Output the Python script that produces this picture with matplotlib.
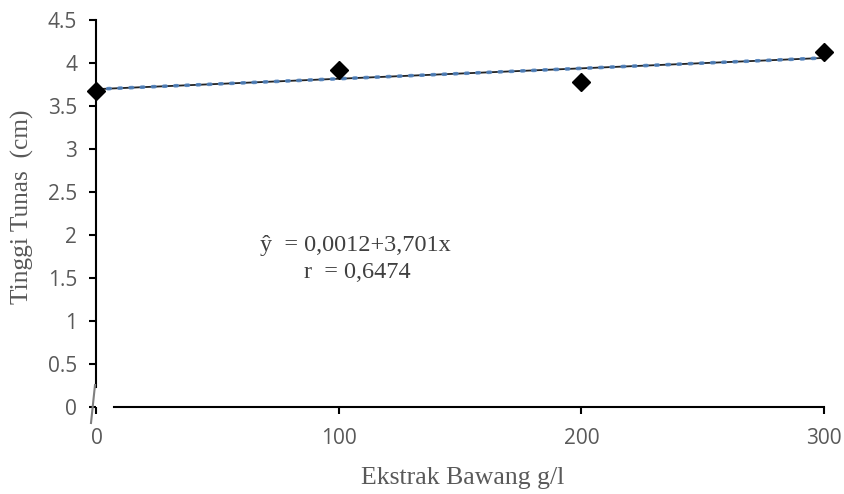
import numpy as np
import matplotlib.pyplot as plt
from matplotlib.lines import Line2D

# data
dosis = [0, 100, 200, 300]
tinggi = [3.68, 3.92, 3.78, 4.13]
xticks = [0, 100, 200, 300]
yticks = [0, 0.5, 1, 1.5, 2, 2.5, 3, 3.5, 4, 4.5]

gray = '#595959'

fig = plt.figure(figsize=(8.45, 4.94), dpi=100)
ax = fig.add_axes([96.5 / 845, 87 / 494, 727.5 / 845, 387 / 494])

# trend line
b, a = np.polyfit(dosis, tinggi, 1)
xs = np.array([0, 300])
ax.plot(xs, a + b * xs, color='#222222', lw=1.3, zorder=2)
ax.plot(xs, a + b * xs, color='#4f81bd', lw=2.6, ls=(0, (0.7, 2.4)),
        dash_capstyle='round', alpha=0.9, zorder=3)

ax.plot(dosis, tinggi, 'D', color='black', ms=9.5, zorder=4, clip_on=False)

ax.set_xlim(0, 300)
ax.set_ylim(0, 4.5)
ax.set_xticks(xticks)
ax.set_xticklabels([str(v) for v in xticks])
ax.set_yticks(yticks)
ax.set_yticklabels([('%g' % v) for v in yticks])

for s in ['top', 'right']:
    ax.spines[s].set_visible(False)
ax.spines['left'].set_bounds(0.23, 4.5)
ax.spines['bottom'].set_bounds(7.2, 300)
ax.spines['left'].set_linewidth(1.5)
ax.spines['bottom'].set_linewidth(1.5)

ax.tick_params(axis='both', direction='out', length=5, width=1.5, color='black',
               labelcolor=gray, labelsize=15, labelfontfamily='Open Sans')
ax.tick_params(axis='y', pad=9)
ax.tick_params(axis='x', pad=10)

# axis break mark
fig.add_artist(Line2D([95 / 845, 91 / 845], [1 - 385 / 494, 1 - 423 / 494],
                      color='#7f7f7f', lw=1.5))

fig.text(463 / 845, 1 - 478 / 494, 'Ekstrak Bawang g/l', ha='center', va='center',
         family='Liberation Serif', fontsize=18.5, color=gray)
fig.text(22 / 845, 1 - 207 / 494, 'Tinggi Tunas  (cm)', ha='center', va='center',
         rotation=90, family='Liberation Serif', fontsize=18.3, color=gray)

fig.text(355 / 845, 1 - 245 / 494, 'ŷ  = 0,0012+3,701x', ha='center', va='center',
         family='Liberation Serif', fontsize=17.5, color='#404040')
fig.text(357 / 845, 1 - 272 / 494, 'r  = 0,6474', ha='center', va='center',
         family='Liberation Serif', fontsize=17.5, color='#404040')

fig.savefig('out.png', dpi=100)
